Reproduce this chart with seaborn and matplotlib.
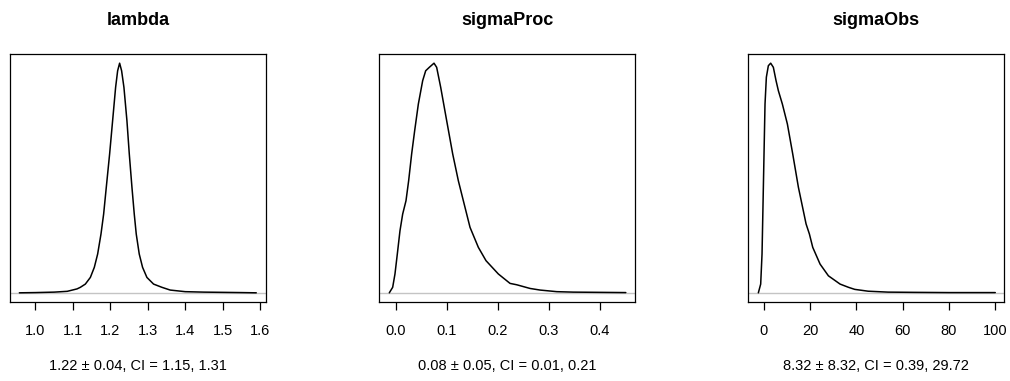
import matplotlib
matplotlib.use("Agg")
import matplotlib.pyplot as plt
import seaborn as sns
import pandas as pd

# ---- data (relative density, peak = 1) ----
titles = ["lambda", "sigmaProc", "sigmaObs"]
summaries = ["1.22 \u00b1 0.04, CI = 1.15, 1.31",
             "0.08 \u00b1 0.05, CI = 0.01, 0.21",
             "8.32 \u00b1 8.32, CI = 0.39, 29.72"]

lambda_x = [0.957, 1.00, 1.05, 1.085, 1.111, 1.12, 1.1333, 1.1467, 1.1573, 1.1662,
            1.1751, 1.1822, 1.1893, 1.1982, 1.2062, 1.2142, 1.2196, 1.2249, 1.2302,
            1.2364, 1.2444, 1.2507, 1.2578, 1.264, 1.2693, 1.2773, 1.2862, 1.2978,
            1.3156, 1.3378, 1.36, 1.40, 1.45, 1.50, 1.55, 1.59]
lambda_d = [0.0, 0.001, 0.003, 0.0065, 0.017, 0.024, 0.038, 0.067, 0.111, 0.169,
            0.256, 0.343, 0.460, 0.605, 0.750, 0.895, 0.967, 1.0, 0.967,
            0.895, 0.750, 0.605, 0.460, 0.343, 0.256, 0.169, 0.111, 0.067,
            0.038, 0.024, 0.012, 0.005, 0.003, 0.002, 0.001, 0.0]

sigmaProc_x = [-0.0125, -0.0059, -0.0014, 0.0032, 0.0084, 0.0137, 0.0202, 0.0254,
               0.0313, 0.0372, 0.0444, 0.0529, 0.0588, 0.0659, 0.0751, 0.0803, 0.0882,
               0.0999, 0.1117, 0.1228, 0.1326, 0.1457, 0.162, 0.177, 0.2012, 0.2241,
               0.2373, 0.2633, 0.283, 0.3157, 0.348, 0.40, 0.451]
sigmaProc_d = [0.0, 0.024, 0.082, 0.169, 0.270, 0.343, 0.401, 0.488,
               0.605, 0.706, 0.822, 0.924, 0.967, 0.982, 1.0, 0.982, 0.895,
               0.750, 0.605, 0.488, 0.401, 0.285, 0.198, 0.140, 0.082, 0.041,
               0.035, 0.019, 0.012, 0.005, 0.003, 0.002, 0.001]

sigmaObs_x = [-2.32, -1.31, -0.73, -0.30, 0.13, 0.56, 1.14, 2.0, 3.01, 4.16, 5.32,
              6.33, 8.05, 10.22, 12.52, 14.97, 18.29, 19.73, 21.17, 24.34, 27.94,
              32.98, 36.59, 39.3, 45.1, 53.7, 65.0, 80.0, 100.0]
sigmaObs_d = [0.0, 0.038, 0.169, 0.386, 0.605, 0.822, 0.939, 0.989, 1.0, 0.982, 0.924,
              0.880, 0.822, 0.735, 0.605, 0.460, 0.300, 0.256, 0.198, 0.125, 0.074,
              0.038, 0.024, 0.015, 0.007, 0.003, 0.002, 0.001, 0.001]

tick_sets = [[1.0, 1.1, 1.2, 1.3, 1.4, 1.5, 1.6],
             [0.0, 0.1, 0.2, 0.3, 0.4],
             [0, 20, 40, 60, 80, 100]]
tick_labels = [["1.0", "1.1", "1.2", "1.3", "1.4", "1.5", "1.6"],
               ["0.0", "0.1", "0.2", "0.3", "0.4"],
               ["0", "20", "40", "60", "80", "100"]]

curves = [(lambda_x, lambda_d), (sigmaProc_x, sigmaProc_d), (sigmaObs_x, sigmaObs_d)]
xlims = [(0.932, 1.616), (-0.0327, 0.469), (-6.66, 103.9)]

sns.set_theme(style="white")
plt.rcParams["font.family"] = ["Liberation Sans", "DejaVu Sans"]
plt.rcParams["text.color"] = "black"
plt.rcParams["axes.labelcolor"] = "black"
plt.rcParams["lines.solid_joinstyle"] = "round"

W, H = 1010, 381
fig = plt.figure(figsize=(W / 100, H / 100), dpi=100)
lefts = [10, 379, 748.3]
for i in range(3):
    left = lefts[i]
    ax = fig.add_axes([left / W, (H - 302) / H, 256 / W, 248 / H])
    df = pd.DataFrame({"x": curves[i][0], "d": curves[i][1]})
    ax.axhline(0, color="#c4c4c4", lw=1.0, zorder=1)
    sns.lineplot(data=df, x="x", y="d", ax=ax, color="black", lw=1.1,
                 sort=False, estimator=None, zorder=2)
    ax.set_xlim(*xlims[i])
    ax.set_ylim(-0.04, 1.04)
    ax.set_xticks(tick_sets[i])
    ax.set_xticklabels(tick_labels[i])
    ax.set_yticks([])
    ax.set_xlabel("")
    ax.set_ylabel("")
    ax.tick_params(axis="x", bottom=True, direction="out", length=6, width=0.9,
                   color="black", labelsize=10.5, pad=9.5, labelcolor="black")
    for s in ax.spines.values():
        s.set_visible(True)
        s.set_color("black")
        s.set_linewidth(0.9)
    ax.set_title(titles[i], fontsize=13, fontweight="bold", pad=21, color="black")
    cx = (left + 128) / W
    fig.text(cx, (H - 366) / H, summaries[i], ha="center", va="center",
             fontsize=10.5, color="black")

fig.savefig("out.png", dpi=100)
